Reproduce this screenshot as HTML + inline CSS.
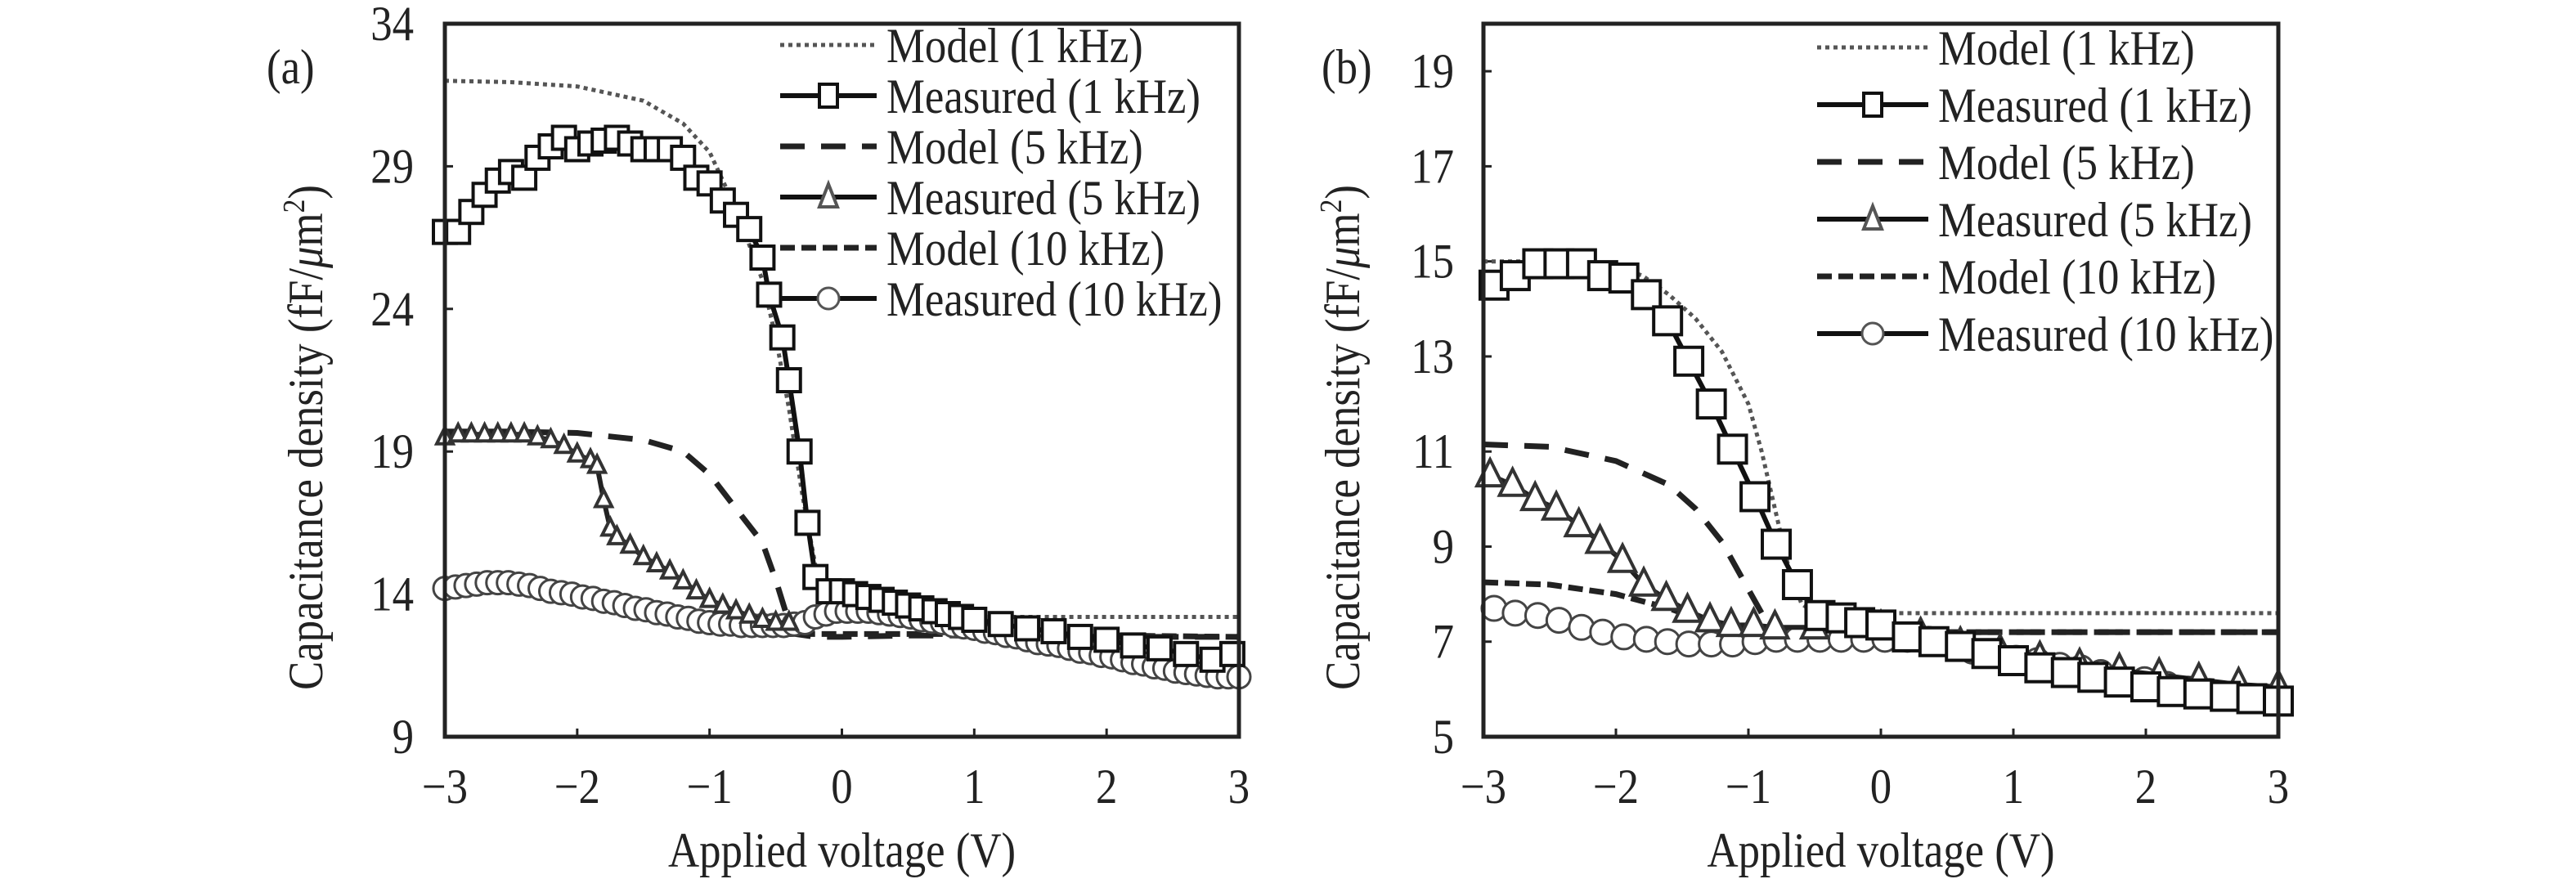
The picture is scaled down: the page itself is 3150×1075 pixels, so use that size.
<!DOCTYPE html>
<html><head><meta charset="utf-8"><style>
html,body{margin:0;padding:0;background:#fff;}
svg{display:block;font-family:"Liberation Serif",serif;}
</style></head><body>
<svg id="chart" width="3150" height="1075" viewBox="0 0 3150 1075"></svg>
<script>
// ---- Panel (a) data ----
const xTicks = [-3,-2,-1,0,1,2,3];
const xTickLabels = ["\u22123","\u22122","\u22121","0","1","2","3"];
const aYTicks = [9,14,19,24,29,34];
const bYTicks = [5,7,9,11,13,15,17,19];

const aModel1X = [-3,-2.5,-2,-1.5,-1.2,-1,-0.8,-0.6,-0.5,-0.4,-0.3,-0.2,-0.1,0,0.5,1,2,3];
const aModel1Y = [32,31.95,31.8,31.3,30.5,29.5,27.5,25,23,20.5,17.5,15,13.8,13.3,13.2,13.2,13.2,13.2];
const aMeas1X = [-3,-2.9,-2.8,-2.7,-2.6,-2.5,-2.4,-2.3,-2.2,-2.1,-2.0,-1.9,-1.8,-1.7,-1.6,-1.5,-1.4,-1.3,-1.2,-1.1,-1.0,-0.9,-0.8,-0.7,-0.6,-0.55,-0.45,-0.4,-0.32,-0.26,-0.2,-0.1,0,0.1,0.2,0.3,0.4,0.5,0.6,0.7,0.8,0.9,1.0,1.2,1.4,1.6,1.8,2.0,2.2,2.4,2.6,2.8,2.95];
const aMeas1Y = [26.7,26.7,27.4,28,28.5,28.8,28.6,29.3,29.7,30,29.6,29.8,29.9,30,29.8,29.6,29.6,29.6,29.3,28.6,28.4,27.8,27.3,26.8,25.8,24.5,23,21.5,19,16.5,14.6,14.1,14.1,14.0,13.9,13.8,13.7,13.6,13.5,13.4,13.3,13.2,13.1,12.95,12.8,12.7,12.5,12.4,12.2,12.1,11.9,11.7,11.9];
const aModel5X = [-3,-2.5,-2,-1.5,-1.2,-1,-0.8,-0.6,-0.5,-0.4,-0.35,-0.2,0,0.5,1,2,3];
const aModel5Y = [19.7,19.7,19.65,19.4,19.0,18.2,17.0,15.8,14.5,13.0,12.6,12.5,12.5,12.55,12.55,12.5,12.5];
const aMeas5X = [-3,-2.9,-2.8,-2.7,-2.6,-2.5,-2.4,-2.3,-2.2,-2.1,-2.0,-1.9,-1.85,-1.8,-1.75,-1.7,-1.6,-1.5,-1.4,-1.3,-1.2,-1.1,-1.0,-0.9,-0.8,-0.7,-0.6,-0.5,-0.4];
const aMeas5Y = [19.5,19.6,19.6,19.6,19.6,19.6,19.6,19.5,19.4,19.2,18.9,18.7,18.5,17.3,16.3,16.0,15.7,15.3,15.05,14.8,14.45,14.1,13.8,13.6,13.4,13.25,13.1,13.0,13.0];
const aModel10X = [-3,-2.5,-2,-1.5,-1,-0.8,0,1,2,3];
const aModel10Y = [14.3,14.25,14.1,13.6,12.9,12.6,12.6,12.6,12.55,12.5];
const aMeas10X = [-3,-2.92,-2.84,-2.76,-2.68,-2.6,-2.52,-2.44,-2.36,-2.28,-2.2,-2.12,-2.04,-1.96,-1.88,-1.8,-1.72,-1.64,-1.56,-1.48,-1.4,-1.32,-1.24,-1.16,-1.08,-1,-0.92,-0.84,-0.76,-0.68,-0.6,-0.52,-0.44,-0.36,-0.28,-0.2,-0.12,-0.04,0.04,0.12,0.2,0.28,0.36,0.44,0.52,0.6,0.68,0.76,0.84,0.92,1,1.08,1.16,1.24,1.32,1.4,1.48,1.56,1.64,1.72,1.8,1.88,1.96,2.04,2.12,2.2,2.28,2.36,2.44,2.52,2.6,2.68,2.76,2.84,2.92,3];
const aMeas10Y = [14.2,14.25,14.3,14.35,14.4,14.4,14.4,14.35,14.3,14.2,14.1,14.05,14.0,13.9,13.85,13.75,13.7,13.6,13.5,13.45,13.35,13.3,13.2,13.15,13.05,13.0,12.95,12.95,12.9,12.9,12.9,12.9,12.9,12.95,13.0,13.2,13.3,13.4,13.4,13.4,13.4,13.35,13.3,13.25,13.2,13.1,13.05,13.0,12.9,12.85,12.8,12.7,12.65,12.55,12.5,12.4,12.3,12.25,12.2,12.1,12.0,11.95,11.85,11.8,11.7,11.6,11.55,11.45,11.4,11.3,11.25,11.2,11.15,11.1,11.1,11.1];

// ---- Panel (b) data ----
const bModel1X = [-3,-2.5,-2,-1.8,-1.6,-1.4,-1.2,-1.0,-0.9,-0.8,-0.7,-0.6,-0.5,0,1,2,3];
const bModel1Y = [15.0,15.0,14.9,14.7,14.3,13.8,13.1,12.0,11.0,9.8,8.6,7.8,7.6,7.6,7.6,7.6,7.6];
const bMeas1X = [-2.92,-2.76,-2.59,-2.43,-2.26,-2.1,-1.94,-1.77,-1.61,-1.45,-1.28,-1.12,-0.95,-0.79,-0.63,-0.46,-0.3,-0.16,0,0.2,0.4,0.6,0.8,1.0,1.2,1.4,1.6,1.8,2.0,2.2,2.4,2.6,2.8,3.0];
const bMeas1Y = [14.5,14.7,14.95,14.95,14.95,14.7,14.65,14.3,13.75,12.9,12.0,11.05,10.05,9.05,8.2,7.55,7.5,7.4,7.35,7.1,7.0,6.9,6.75,6.6,6.45,6.35,6.25,6.15,6.05,5.95,5.9,5.85,5.8,5.75];
const bModel5X = [-3,-2.5,-2,-1.6,-1.4,-1.2,-1.0,-0.9,-0.8,-0.6,0,1,2,3];
const bModel5Y = [11.15,11.1,10.8,10.3,9.8,9.1,8.1,7.6,7.3,7.2,7.2,7.2,7.2,7.2];
const bMeas5X = [-2.95,-2.78,-2.61,-2.45,-2.28,-2.12,-1.95,-1.79,-1.62,-1.46,-1.29,-1.13,-0.96,-0.8,-0.5,0,0.3,0.6,0.9,1.2,1.5,1.8,2.1,2.4,2.7,3.0];
const bMeas5Y = [10.5,10.3,10.0,9.8,9.45,9.1,8.7,8.2,7.9,7.65,7.45,7.35,7.35,7.3,7.3,7.3,7.15,6.95,6.8,6.65,6.5,6.4,6.3,6.2,6.1,6.05];
const bModel10X = [-3,-2.5,-2,-1.6,-1.4,-1.2,-1,0,1,2,3];
const bModel10Y = [8.25,8.2,8.0,7.7,7.5,7.3,7.25,7.2,7.2,7.2,7.2];
const bMeas10X = [-2.92,-2.76,-2.59,-2.43,-2.26,-2.1,-1.94,-1.77,-1.61,-1.45,-1.28,-1.12,-0.95,-0.79,-0.63,-0.46,-0.3,-0.13,0.03,0.2,0.36,0.53,0.69,0.85,1.02,1.18,1.35,1.51,1.66,1.81,1.99,2.16,2.32,2.48,2.64,2.81,2.97];
const bMeas10Y = [7.7,7.6,7.55,7.45,7.3,7.2,7.1,7.05,7.0,6.95,6.95,6.95,7.0,7.05,7.05,7.05,7.05,7.05,7.05,7.05,7.05,6.95,6.8,6.75,6.65,6.6,6.5,6.45,6.35,6.2,6.2,6.1,6.0,5.95,5.85,5.8,5.75];

const NS = "http://www.w3.org/2000/svg";
const svg = document.getElementById('chart');
const FS = 60, SX = 0.88;
function el(tag, attrs, parent){
  const e = document.createElementNS(NS, tag);
  for (const k in attrs) e.setAttribute(k, attrs[k]);
  (parent||svg).appendChild(e);
  return e;
}
function txt(s, x, y, anchor, parent){
  const t = el('text', {x:0,y:0,'font-size':FS,'text-anchor':anchor||'start',fill:'#222',transform:`translate(${x},${y}) scale(${SX},1)`}, parent);
  t.textContent = s; return t;
}

function panel(cfg){
  const g = el('g', {});
  
  
  const L=cfg.left, R=cfg.right, T=29, B=901;
  const sx = v => L + (v+3)/6*(R-L);
  const sy = v => B - (v-cfg.ymin)/(cfg.ymax-cfg.ymin)*(B-T);
  const cid = cfg.name+'-clip';
  const defs = el('defs', {}, g);
  const cp = el('clipPath', {id:cid}, defs);
  el('rect', {x:L-20,y:T,width:R-L+40,height:B-T}, cp);
  xTicks.forEach((v,i)=>{
    const tk = el('line',{x1:sx(v),x2:sx(v),y1:B,y2:B-10,stroke:'#222','stroke-width':3},g);
    
    
    const lb = txt(xTickLabels[i],sx(v),982,'middle',g);
    
    
  });
  cfg.yticks.forEach(v=>{
    const tk = el('line',{x1:L,x2:L+10,y1:sy(v),y2:sy(v),stroke:'#222','stroke-width':3},g);
    
    
    const lb = txt(String(v),cfg.ylabX,sy(v)+20,'end',g);
    
    
  });
  const pg = el('g',{'clip-path':'url(#'+cid+')'},g);
  function line(xs,ys,style,nm){
    const d = xs.map((x,i)=>(i?'L':'M')+sx(x).toFixed(1)+','+sy(ys[i]).toFixed(1)).join(' ');
    const p = el('path',Object.assign({d:d,fill:'none'},style),pg);
    
    
  }
  function markers(xs,ys,kind,size,stroke,nm){
    xs.forEach((x,i)=>{
      const cx=sx(x), cy=sy(ys[i]); let m;
      if(kind==='sq') m = el('rect',{x:cx-size/2,y:cy-size/2,width:size,height:size,fill:'#fff',stroke:stroke,'stroke-width':4},pg);
      else if(kind==='tri') m = el('polygon',{points:`${cx},${cy-size*0.6} ${cx-size/2},${cy+size*0.4} ${cx+size/2},${cy+size*0.4}`,fill:'#fff',stroke:stroke,'stroke-width':4},pg);
      else m = el('circle',{cx:cx,cy:cy,r:size/2,fill:'#fff',stroke:stroke,'stroke-width':3},pg);
      
      
    });
  }
  const D = cfg.data;
  line(D.m1x,D.m1y,{stroke:'#555','stroke-width':5,'stroke-dasharray':'5 5'},'model-1khz-line');
  line(D.m5x,D.m5y,{stroke:'#222','stroke-width':7,'stroke-dasharray':'30 20'},'model-5khz-line');
  line(D.m10x,D.m10y,{stroke:'#222','stroke-width':7,'stroke-dasharray':'18 8'},'model-10khz-line');
  line(D.me10x,D.me10y,{stroke:'#222','stroke-width':6},'measured-10khz-line');
  markers(D.me10x,D.me10y,'circ',cfg.circ,'#444','measured-10khz-point');
  line(D.me5x,D.me5y,{stroke:'#222','stroke-width':6},'measured-5khz-line');
  markers(D.me5x,D.me5y,'tri',cfg.tri,'#333','measured-5khz-point');
  line(D.me1x,D.me1y,{stroke:'#111','stroke-width':6},'measured-1khz-line');
  markers(D.me1x,D.me1y,'sq',cfg.sq,'#111','measured-1khz-point');
  const box = el('rect',{x:L,y:T,width:R-L,height:B-T,fill:'none',stroke:'#222','stroke-width':5},g);
  
  
  const labels=['Model (1 kHz)','Measured (1 kHz)','Model (5 kHz)','Measured (5 kHz)','Model (10 kHz)','Measured (10 kHz)'];
  const styles=[
    {stroke:'#555','stroke-width':5,'stroke-dasharray':'5 5'},
    {stroke:'#111','stroke-width':6},
    {stroke:'#222','stroke-width':7,'stroke-dasharray':'30 20'},
    {stroke:'#111','stroke-width':6},
    {stroke:'#222','stroke-width':7,'stroke-dasharray':'18 8'},
    {stroke:'#111','stroke-width':6}];
  const kinds=[null,'sq',null,'tri',null,'circ'];
  labels.forEach((s,i)=>{
    const y = cfg.legY0 + i*cfg.legDY;
    const lg = el('g',{},g);
    
    
    el('line',Object.assign({x1:cfg.legX1,x2:cfg.legX2,y1:y,y2:y},styles[i]),lg);
    const mx=(cfg.legX1+cfg.legX2)/2;
    if(kinds[i]==='sq') el('rect',{x:mx-11,y:y-14,width:22,height:28,fill:'#fff',stroke:'#111','stroke-width':4},lg);
    if(kinds[i]==='tri') el('polygon',{points:`${mx},${y-16} ${mx-11},${y+12} ${mx+11},${y+12}`,fill:'#fff',stroke:'#555','stroke-width':4},lg);
    if(kinds[i]==='circ') el('circle',{cx:mx,cy:y,r:13,fill:'#fff',stroke:'#555','stroke-width':3},lg);
    txt(s,cfg.legX2+12,y+21,'start',lg);
  });
  const pl = txt(cfg.tag,cfg.tagX,102,'start',g);
  
  
  const xt = txt('Applied voltage (V)',(L+R)/2,1060,'middle',g);
  
  
  const yt = el('text',{x:0,y:0,'font-size':FS,'text-anchor':'middle',fill:'#222',transform:`translate(${cfg.ytX},535) rotate(-90) scale(${SX},1)`},g);
  yt.innerHTML = 'Capacitance density (fF/<tspan font-style="italic">μ</tspan>m<tspan dy="-22" font-size="38">2</tspan><tspan dy="22">)</tspan>';
  
  
}

panel({name:'panel-a',left:544,right:1515,ymin:9,ymax:34,yticks:aYTicks,ylabX:506,
  sq:28,tri:20,circ:28,tag:'(a)',tagX:326,ytX:394,legX1:954,legX2:1072,legY0:55,legDY:62,
  data:{m1x:aModel1X,m1y:aModel1Y,me1x:aMeas1X,me1y:aMeas1Y,m5x:aModel5X,m5y:aModel5Y,me5x:aMeas5X,me5y:aMeas5Y,m10x:aModel10X,m10y:aModel10Y,me10x:aMeas10X,me10y:aMeas10Y}});
panel({name:'panel-b',left:1814,right:2786,ymin:5,ymax:20,yticks:bYTicks,ylabX:1778,
  sq:34,tri:32,circ:30,tag:'(b)',tagX:1616,ytX:1662,legX1:2222,legX2:2358,legY0:58,legDY:70,
  data:{m1x:bModel1X,m1y:bModel1Y,me1x:bMeas1X,me1y:bMeas1Y,m5x:bModel5X,m5y:bModel5Y,me5x:bMeas5X,me5y:bMeas5Y,m10x:bModel10X,m10y:bModel10Y,me10x:bMeas10X,me10y:bMeas10Y}});
</script>
</body></html>
